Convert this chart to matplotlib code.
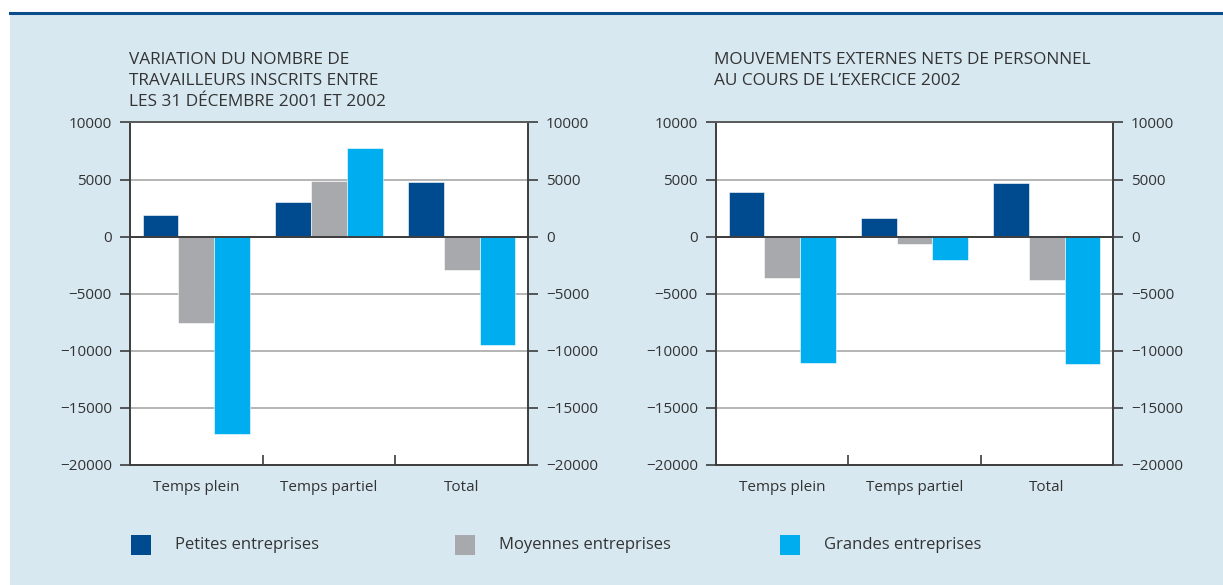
import matplotlib
matplotlib.use("Agg")
import matplotlib.pyplot as plt
import numpy as np
from matplotlib.patches import Rectangle
from matplotlib.ticker import FuncFormatter

plt.rcParams["font.family"] = ["Open Sans", "DejaVu Sans"]

CATEGORIES = ["Temps plein", "Temps partiel", "Total"]
SERIES = ["Petites entreprises", "Moyennes entreprises", "Grandes entreprises"]
COLORS = ["#004a8f", "#a7a9ac", "#00aeef"]

# variation du nombre de travailleurs inscrits, 31/12/2001 -> 31/12/2002
VAR_PETITES = [1900, 3000, 4800]
VAR_MOYENNES = [-7600, 4900, -2900]
VAR_GRANDES = [-17300, 7800, -9500]

# mouvements externes nets de personnel, exercice 2002
MVT_PETITES = [3900, 1600, 4700]
MVT_MOYENNES = [-3650, -650, -3800]
MVT_GRANDES = [-11100, -2050, -11150]

TITLE_LEFT = "VARIATION DU NOMBRE DE\nTRAVAILLEURS INSCRITS ENTRE\nLES 31 DÉCEMBRE 2001 ET 2002"
TITLE_RIGHT = "MOUVEMENTS EXTERNES NETS DE PERSONNEL\nAU COURS DE L\u2019EXERCICE 2002"

YTICKS = [-20000, -15000, -10000, -5000, 0, 5000, 10000]

BG = "#d7e8f1"
TXT = "#333333"
SPINE = "#3d3d3d"
W, H = 1223, 585


def fmt(v, pos):
    v = int(v)
    return str(v).replace("-", "\u2212")


def draw_panel(ax, title, series_vals):
    x = np.arange(len(CATEGORIES))
    w = 0.27
    for i, vals in enumerate(series_vals):
        ax.bar(x + (i - 1) * w, vals, width=w, color=COLORS[i], edgecolor="white",
               linewidth=0.4, zorder=3)
    ax.set_xlim(-0.5, len(CATEGORIES) - 0.5)
    ax.set_ylim(-20000, 10000)
    ax.set_yticks(YTICKS)
    for y in YTICKS:
        ax.axhline(y, color="#b4b4b4", lw=1.4, zorder=1)
    ax.axhline(0, color=SPINE, lw=1.4, zorder=4)
    ax.yaxis.set_major_formatter(FuncFormatter(fmt))
    ax.tick_params(axis="y", which="both", left=True, right=True, labelleft=True,
                   labelright=True, direction="out", length=7, width=1.2, color=SPINE,
                   labelsize=11, labelcolor=TXT, pad=6)
    # categories labelled at centers, ticks at boundaries
    ax.set_xticks(x)
    ax.set_xticklabels(CATEGORIES)
    ax.tick_params(axis="x", which="major", length=0, labelsize=11, labelcolor=TXT, pad=11)
    ax.set_xticks(x[:-1] + 0.5, minor=True)
    ax.tick_params(axis="x", which="minor", direction="in", length=7, width=1.2, color=SPINE)
    for s in ["left", "right", "bottom"]:
        ax.spines[s].set_color(SPINE)
        ax.spines[s].set_linewidth(1.4)
    ax.spines["top"].set_color("#5a5a5a")
    ax.spines["top"].set_linewidth(1.4)
    ax.set_facecolor("white")


fig = plt.figure(figsize=(W / 100, H / 100), dpi=100)
fig.patch.set_facecolor("white")
bg = Rectangle((10 / W, 0), 1 - 10 / W, 1 - 13 / H, transform=fig.transFigure,
               facecolor=BG, edgecolor="none", zorder=-10)
fig.add_artist(bg)
fig.add_artist(plt.Line2D([10 / W, 1], [1 - 13 / H, 1 - 13 / H],
                          transform=fig.transFigure, color="#0a4d8c", lw=2.2, zorder=-5))

ax1 = fig.add_axes([130 / W, 120 / H, 398 / W, 342.5 / H])
ax2 = fig.add_axes([716 / W, 120 / H, 397 / W, 342.5 / H])

draw_panel(ax1, TITLE_LEFT, [VAR_PETITES, VAR_MOYENNES, VAR_GRANDES])
draw_panel(ax2, TITLE_RIGHT, [MVT_PETITES, MVT_MOYENNES, MVT_GRANDES])

for xpx, title in [(129, TITLE_LEFT), (714, TITLE_RIGHT)]:
    fig.text(xpx / W, 1 - 52 / H, title, ha="left", va="top", fontsize=12.4,
             color=TXT, linespacing=1.4)

# legend
leg_x = [131, 455, 780]
for i, name in enumerate(SERIES):
    fig.add_artist(Rectangle((leg_x[i] / W, (H - 555) / H), 20 / W, 20 / H,
                             transform=fig.transFigure, facecolor=COLORS[i],
                             edgecolor="none", zorder=2))
    fig.text((leg_x[i] + 44) / W, (H - 545) / H, name, ha="left", va="center",
             fontsize=12, color=TXT)

fig.savefig("out.png", dpi=100, facecolor=fig.get_facecolor())
